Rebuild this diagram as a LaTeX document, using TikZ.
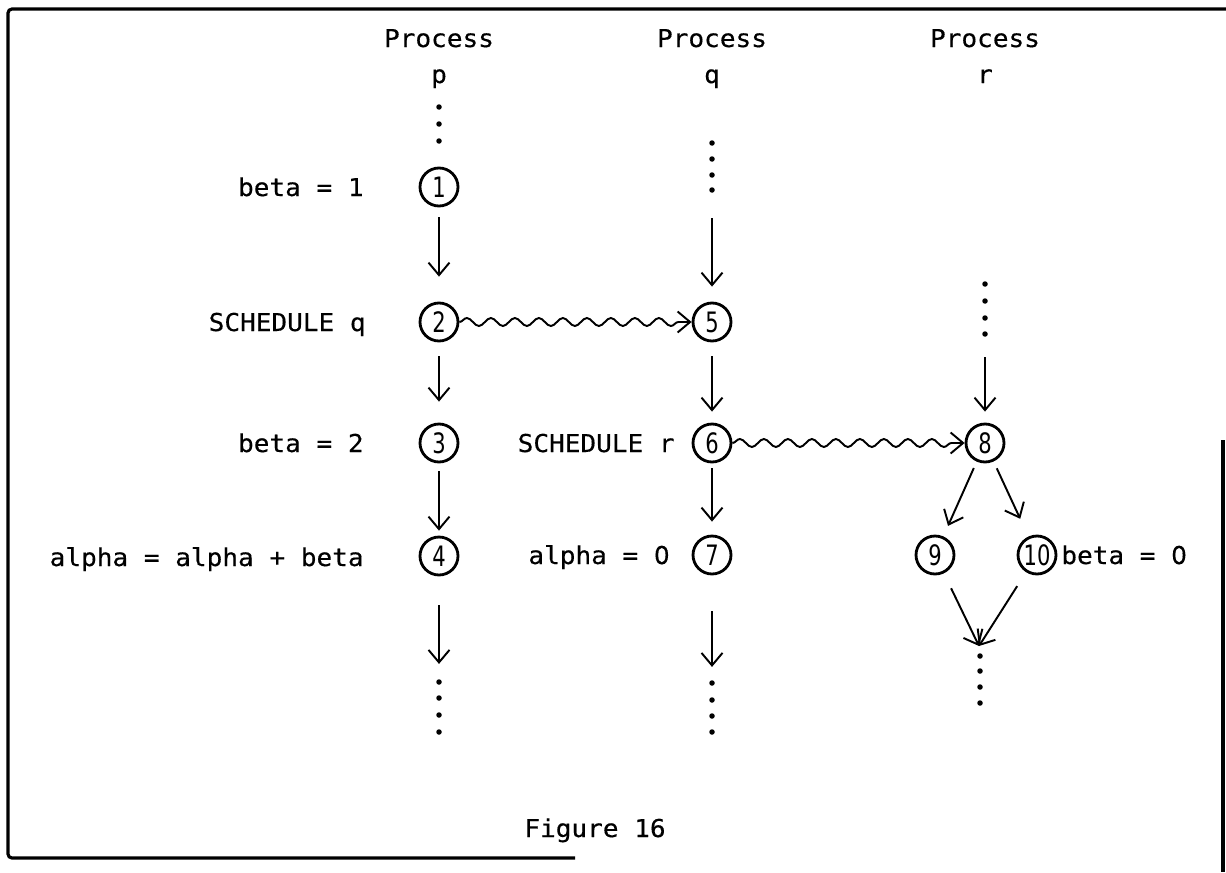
\documentclass[tikz,border=0pt]{standalone}
\usepackage{fontspec}
\usetikzlibrary{arrows.meta,decorations.pathmorphing}
\newfontfamily\typefont[FakeStretch=1.06,FakeBold=0.4]{DejaVu Sans Mono}
\newfontfamily\plainzero[FakeStretch=1.0,FakeBold=0.4]{DejaVu Sans}
\newfontfamily\numfont[FakeStretch=0.75]{DejaVu Sans}
\newcommand{\zr}{{\plainzero 0}}

\begin{document}
\begin{tikzpicture}[x=0.02cm,y=-0.02cm]
\tikzset{
  txt/.style={font=\typefont\fontsize{14pt}{16pt}\selectfont, inner sep=0pt},
  ev/.style={circle, draw, line width=1.6pt, minimum size=0.76cm, inner sep=0pt,
             font=\numfont\fontsize{16pt}{17pt}\selectfont},
  dot/.style={circle, fill, minimum size=0.11cm, inner sep=0pt},
  arr/.style={line width=1.1pt, -{Straight Barb[length=0.25cm,width=0.42cm]}},
  sched/.style={arr, decorate,
                decoration={snake, amplitude=0.08cm, segment length=0.48cm, post length=0.22cm}},
  frame/.style={line width=1.8pt}
}
\useasboundingbox (0,0) rectangle (1226,872);

% outer frame
\draw[frame, rounded corners=0.08cm] (575,858) -- (8,858) -- (8,9) -- (1226,9);
\draw[frame] (1223,440) -- (1223,872);

% process headings
\node[txt, anchor=base] (hp) at (439,47) {Process};
\node[txt, anchor=base] (hpl) at (439,83) {p};
\node[txt, anchor=base] (hq) at (712,47) {Process};
\node[txt, anchor=base] (hql) at (712,83) {q};
\node[txt, anchor=base] (hr) at (985,47) {Process};
\node[txt, anchor=base] (hrl) at (985,83) {r};

% events
\node[ev] (c1) at (439,187) {1};
\node[ev] (c2) at (439,322) {2};
\node[ev] (c3) at (439,443) {3};
\node[ev] (c4) at (439,556) {4};
\node[ev] (c5) at (712,322) {5};
\node[ev] (c6) at (712,443) {6};
\node[ev] (c7) at (712,555) {7};
\node[ev] (c8) at (985,443) {8};
\node[ev] (c9) at (935,555) {9};
\node[ev] (c10) at (1037,555) {10};

% statements
\node[txt, anchor=base east] (s1) at (364,196) {beta = 1};
\node[txt, anchor=base east] (s2) at (366,331) {SCHEDULE q};
\node[txt, anchor=base east] (s3) at (364,452) {beta = 2};
\node[txt, anchor=base east] (s4) at (364,566) {alpha = alpha + beta};
\node[txt, anchor=base east] (s6) at (675,452) {SCHEDULE r};
\node[txt, anchor=base east] (s7) at (670,564) {alpha = \zr};
\node[txt, anchor=base west] (s10) at (1061,564) {beta = \zr};

% continuation dots
\node[dot] (pa1) at (439,107) {};
\node[dot] (pa2) at (439,124) {};
\node[dot] (pa3) at (439,141) {};
\node[dot] (qa1) at (712,143) {};
\node[dot] (qa2) at (712,159) {};
\node[dot] (qa3) at (712,175) {};
\node[dot] (qa4) at (712,190) {};
\node[dot] (ra1) at (985,284) {};
\node[dot] (ra2) at (985,301) {};
\node[dot] (ra3) at (985,318) {};
\node[dot] (ra4) at (985,334) {};
\node[dot] (pb1) at (439,682) {};
\node[dot] (pb2) at (439,698) {};
\node[dot] (pb3) at (439,715) {};
\node[dot] (pb4) at (439,732) {};
\node[dot] (qb1) at (712,683) {};
\node[dot] (qb2) at (712,700) {};
\node[dot] (qb3) at (712,716) {};
\node[dot] (qb4) at (712,732) {};
\node[dot] (rb1) at (980,656) {};
\node[dot] (rb2) at (980,671) {};
\node[dot] (rb3) at (980,687) {};
\node[dot] (rb4) at (980,703) {};
\coordinate (rj) at (979,646);

% process p
\draw[arr, shorten <=0.2cm, shorten >=0.5cm] (c1) -- (c2);
\draw[arr, shorten <=0.28cm, shorten >=0.42cm] (c2) -- (c3);
\draw[arr, shorten <=0.16cm, shorten >=0.1cm] (c3) -- (c4);
\draw[arr, shorten <=0.58cm, shorten >=0.3cm] (c4) -- (pb1);

% process q
\draw[arr, shorten <=0.5cm, shorten >=0.3cm] (qa4) -- (c5);
\draw[arr, shorten <=0.28cm, shorten >=0.22cm] (c5) -- (c6);
\draw[arr, shorten <=0.1cm, shorten >=0.26cm] (c6) -- (c7);
\draw[arr, shorten <=0.72cm, shorten >=0.26cm] (c7) -- (qb1);

% process r
\draw[arr, shorten <=0.4cm, shorten >=0.22cm] (ra4) -- (c8);
\draw[arr, shorten <=0.14cm, shorten >=0.23cm] (c8) -- (c9);
\draw[arr, shorten <=0.15cm, shorten >=0.39cm] (c8) -- (c10);
\draw[arr, shorten <=0.33cm] (c9) -- (rj);
\draw[arr, shorten <=0.33cm] (c10) -- (rj);

% scheduling messages
\draw[sched] (c2) -- (c5);
\draw[sched] (c6) -- (c8);

% caption
\node[txt, anchor=base] (cap) at (595,837) {Figure 16};
\end{tikzpicture}
\end{document}
